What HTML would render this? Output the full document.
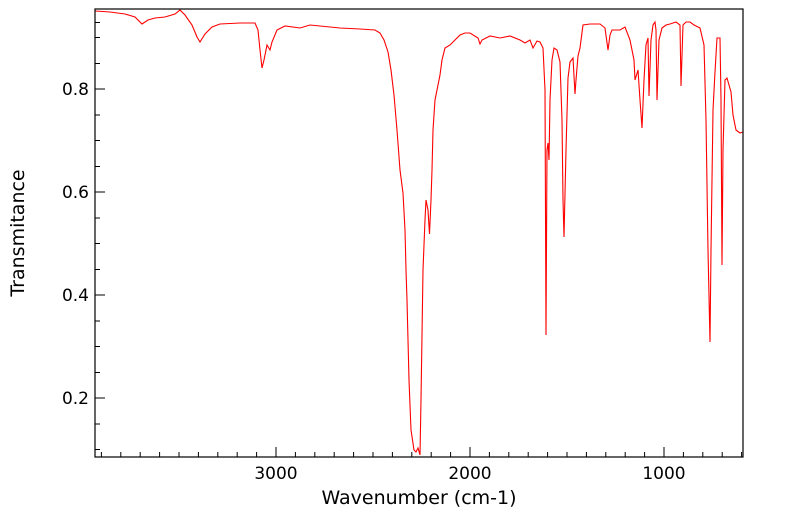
<!DOCTYPE html>
<html><head><style>body{margin:0;background:#fff}svg{display:block}text{font-family:"DejaVu Sans",sans-serif;fill:#000}</style></head>
<body>
<svg width="799" height="516" xmlns="http://www.w3.org/2000/svg">
<polyline fill="none" stroke="#ff0000" stroke-width="1.1" points="95,11 110,12 125,14 135,17 142,24 148,20 155,18 165,17 175,14 180,10 185,15 192,25 197,37 200,42 205,34 212,27 220,24 240,23 255,23 258,30 260,50 262,68 264,60 267,45 270,50 272,42 277,30 285,26 300,28 310,25 330,27 340,28 360,29 375,30 380,33 384,40 388,52 391,70 394,95 397,130 400,170 403,193 405,230 406,270 407,300 409,380 411,430 414,450 416,452 418,448 420,455 421,400 423,270 425,220 426,200 428,210 429.5,234 431,200 432,170 433,130 435,100 438,85 440,75 442,60 445,48 450,45 455,40 460,35 465,33 470,33 478,38 480,44 482,40 490,36 500,38 510,36 520,40 525,43 530,40 533,48 537,41 540,42 543,48 545,90 546,335 547,150 548,143 549,160 550,100 552,60 554,48 557,50 560,62 562,120 563,200 564,237 566,150 568,78 570,62 573,58 575,94 576,80 578,56 580,48 583,25 590,24 600,24 605,28 608,50 610,35 612,30 620,30 625,27 630,40 634,60 635,80 638,70 640,100 642,128 644,80 646,45 648,38 649,96 651,40 653,25 655,22 656,30 657,100 659,40 662,28 666,25 670,24 676,22 680,25 681,86 683,25 686,22 690,22 694,25 700,28 704,45 706,120 708,250 710,342 711,250 713,110 715,72 717,38 720,38 721,100 722,265 723,150 725,80 727,78 731,92 733,115 736,130 740,133 743,132"/>
<rect x="95" y="9" width="648" height="448" fill="none" stroke="#000" stroke-width="1.2"/>
<g stroke="#000" stroke-width="1">
<path d="M95,89h10M95,192h10M95,295h10M95,398h10"/>
<path d="M95,22.5h5M95,37.5h5M95,63.5h5M95,115h5M95,140.5h5M95,166.5h5M95,218h5M95,243.5h5M95,269.5h5M95,321h5M95,346.5h5M95,372.5h5M95,424h5M95,449.5h5"/>
<path d="M276,457v-10M470,457v-10M664,457v-10"/>
<path d="M101.4,457v-5M120.8,457v-5M140.2,457v-5M159.6,457v-5M179,457v-5M198.4,457v-5M217.8,457v-5M237.2,457v-5M256.6,457v-5M295.4,457v-5M314.8,457v-5M334.2,457v-5M353.6,457v-5M373,457v-5M392.4,457v-5M411.8,457v-5M431.2,457v-5M450.6,457v-5M489.4,457v-5M508.8,457v-5M528.2,457v-5M547.6,457v-5M567,457v-5M586.4,457v-5M605.8,457v-5M625.2,457v-5M644.6,457v-5M683.4,457v-5M702.8,457v-5M722.2,457v-5M741.6,457v-5"/>
</g>
<g font-size="17" text-anchor="end">
<text x="89" y="95">0.8</text><text x="89" y="198">0.6</text><text x="89" y="301">0.4</text><text x="89" y="404">0.2</text>
</g>
<g font-size="17" text-anchor="middle">
<text x="276" y="479">3000</text><text x="470" y="479">2000</text><text x="664" y="479">1000</text>
</g>
<g font-size="19" text-anchor="middle">
<text x="419" y="504">Wavenumber (cm-1)</text>
<text transform="translate(24,233) rotate(-90)">Transmitance</text>
</g>
</svg>
</body></html>
